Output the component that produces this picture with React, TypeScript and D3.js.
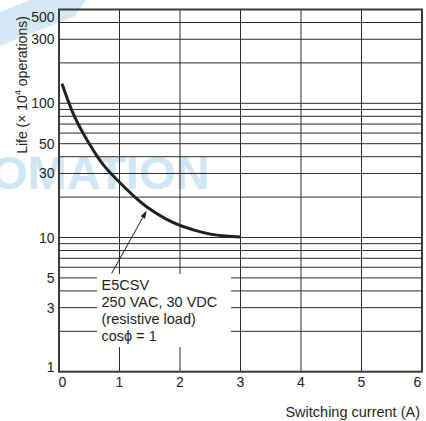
import React, { useEffect, useRef } from 'react';
import * as d3 from 'd3';

// Life curve (switching current A, life x10^4 operations)
const currentA = [0.05, 0.25, 0.5, 0.75, 1.0, 1.25, 1.5, 1.75, 2.0, 2.25, 2.5, 2.75, 3.0];
const lifeOps = [140, 81, 50, 34, 25.8, 20.1, 16.3, 13.9, 12.3, 11.3, 10.6, 10.25, 10.1];

const xTicks = [0, 1, 2, 3, 4, 5, 6];
const yLabelTicks = [1, 3, 5, 10, 30, 50, 100, 300, 500];
const yGridTicks = [2, 3, 4, 5, 6, 7, 8, 9, 10, 20, 30, 40, 50, 60, 70, 80, 90, 100, 200, 300, 400];

const noteLines = ['E5CSV', '250 VAC, 30 VDC', '(resistive load)', 'cos\u03d5 = 1'];
const arrowTail = [0.87, 5.4];
const arrowHead = [1.45, 15.9];

const W = 426;
const H = 421;
const plot = { left: 59, right: 422, top: 9.5, bottom: 371.7 };
const FONT = '"Liberation Sans", Arial, sans-serif';
const INK = '#231f20';

export default function App() {
  const ref = useRef<SVGSVGElement>(null);

  useEffect(() => {
    const svg = d3.select(ref.current);
    svg.selectAll('*').remove();

    const x = d3.scaleLinear().domain([0, 6]).range([plot.left, plot.right]);
    const y = d3.scaleLog().domain([1, 500]).range([plot.bottom, plot.top]);

    svg.append('rect').attr('width', W).attr('height', H).attr('fill', '#fff');

    // watermark
    svg.append('polygon')
      .attr('points', '0,12 30,0 86,0 75,16 0,46')
      .attr('fill', '#d5e8f5');
    svg.append('text')
      .attr('x', -9).attr('y', 188.5)
      .attr('font-family', FONT).attr('font-weight', 'bold').attr('font-size', 47)
      .attr('fill', '#d1e6f4')
      .text('OMATION');

    const grid = svg.append('g').attr('stroke', '#2a2a2a').attr('stroke-width', 1);
    grid.selectAll('line.h')
      .data(yGridTicks)
      .enter().append('line')
      .attr('x1', plot.left).attr('x2', plot.right)
      .attr('y1', d => y(d)).attr('y2', d => y(d));
    grid.selectAll('line.v')
      .data(xTicks.slice(1, -1))
      .enter().append('line')
      .attr('y1', plot.top).attr('y2', plot.bottom)
      .attr('x1', d => x(d)).attr('x2', d => x(d));

    // annotation box hides the grid behind the text
    svg.append('rect')
      .attr('x', 97).attr('y', 274)
      .attr('width', 134).attr('height', 73)
      .attr('fill', '#fff');

    // frame
    svg.append('rect')
      .attr('x', plot.left).attr('y', plot.top)
      .attr('width', plot.right - plot.left).attr('height', plot.bottom - plot.top)
      .attr('fill', 'none').attr('stroke', '#3a3a3a').attr('stroke-width', 2);

    const line = d3.line<number>()
      .x((_, i) => x(currentA[i]))
      .y(d => y(d))
      .curve(d3.curveCatmullRom);
    svg.append('path')
      .attr('d', line(lifeOps))
      .attr('fill', 'none').attr('stroke', INK).attr('stroke-width', 3);

    // arrow
    const tx = x(arrowTail[0]), ty = y(arrowTail[1]);
    const hx = x(arrowHead[0]), hy = y(arrowHead[1]);
    const ang = Math.atan2(hy - ty, hx - tx);
    const len = 8, half = 2.5;
    const bx = hx - len * Math.cos(ang), by = hy - len * Math.sin(ang);
    svg.append('line')
      .attr('x1', tx).attr('y1', ty).attr('x2', bx).attr('y2', by)
      .attr('stroke', INK).attr('stroke-width', 1);
    svg.append('polygon')
      .attr('points', [
        [hx, hy],
        [bx + half * Math.sin(ang), by - half * Math.cos(ang)],
        [bx - half * Math.sin(ang), by + half * Math.cos(ang)],
      ].map(p => p.join(',')).join(' '))
      .attr('fill', INK);

    svg.append('g')
      .selectAll('text')
      .data(noteLines)
      .enter().append('text')
      .attr('x', 101.5)
      .attr('y', (_, i) => 289.5 + i * 17)
      .attr('font-family', FONT).attr('font-size', 14.5).attr('fill', INK)
      .text(d => d);

    // tick labels
    svg.append('g')
      .selectAll('text')
      .data(yLabelTicks)
      .enter().append('text')
      .attr('x', 54.5)
      .attr('y', d => Math.min(Math.max(y(d), plot.top + 7.5), plot.bottom - 5) + 5)
      .attr('text-anchor', 'end')
      .attr('font-family', FONT).attr('font-size', 14).attr('fill', INK)
      .text(d => d);

    svg.append('g')
      .selectAll('text')
      .data(xTicks)
      .enter().append('text')
      .attr('x', d => Math.min(Math.max(x(d), plot.left + 3.5), plot.right - 4.5))
      .attr('y', 386.7)
      .attr('text-anchor', 'middle')
      .attr('font-family', FONT).attr('font-size', 14).attr('fill', INK)
      .text(d => d);

    svg.append('text')
      .attr('x', 420).attr('y', 416.5)
      .attr('text-anchor', 'end')
      .attr('font-family', FONT).attr('font-size', 14.5).attr('fill', INK)
      .text('Switching current (A)');

    const yt = svg.append('text')
      .attr('transform', 'translate(26.5,85) rotate(-90)')
      .attr('text-anchor', 'middle')
      .attr('font-family', FONT).attr('font-size', 14).attr('fill', INK);
    yt.append('tspan').text('Life (\u00d7 10');
    yt.append('tspan').attr('font-size', 9).attr('dy', -6).text('4');
    yt.append('tspan').attr('dy', 6).text(' operations)');
  }, []);

  return (
    <svg
      ref={ref}
      width={W}
      height={H}
      style={{ position: 'absolute', left: 0, top: 0 }}
    />
  );
}
